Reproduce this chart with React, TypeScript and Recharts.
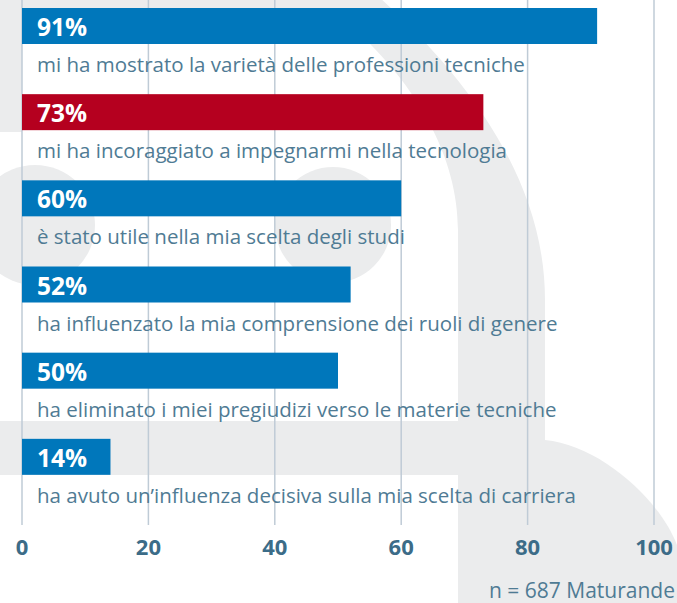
import React from "react";
import { BarChart, Bar, XAxis, YAxis, CartesianGrid } from "recharts";

const categories = [
  "mi ha mostrato la varietà delle professioni tecniche",
  "mi ha incoraggiato a impegnarmi nella tecnologia",
  "è stato utile nella mia scelta degli studi",
  "ha influenzato la mia comprensione dei ruoli di genere",
  "ha eliminato i miei pregiudizi verso le materie tecniche",
  "ha avuto un’influenza decisiva sulla mia scelta di carriera",
];
const values = [91, 73, 60, 52, 50, 14];
const barColors = ["#0077bb", "#b5001f", "#0077bb", "#0077bb", "#0077bb", "#0077bb"];
const xTicks = [0, 20, 40, 60, 80, 100];
const note = "n = 687 Maturande";

const FONT = "'Open Sans', 'Noto Sans', sans-serif";
const LABEL_COLOR = "#4f7b94";
const TICK_COLOR = "#3c6c88";
const GRID_COLOR = "#bfcbd6";
const SHAPE_GRAY = "#ebeced";

const data = categories.map((category, i) => ({
  category,
  value: values[i],
  color: barColors[i],
}));

// bar fills the top of each band, the statement sits under it
const BarWithLabel = (props: any) => {
  const { x, y, width, payload } = props;
  return (
    <g>
      <rect x={x} y={y} width={width} height={36} fill={payload.color} />
      <text x={x + 15} y={y + 28} fill="#ffffff" fontSize={24.5} fontWeight={700} fontFamily={FONT}>
        {payload.value}%
      </text>
      <text x={x + 15} y={y + 64} fill={LABEL_COLOR} fontSize={20.5} fontFamily={FONT}>
        {payload.category}
      </text>
    </g>
  );
};

// decorative logo shapes behind the chart
function Backdrop() {
  return (
    <svg width={677} height={603} style={{ position: "absolute", left: 0, top: 0 }}>
      <path
        d="M 0 -20 L 360 -20 C 440 50, 545 160, 545 300 L 545 603 L 458 603 L 458 230 C 458 160, 420 80, 330 8 L 0 8 Z"
        fill={SHAPE_GRAY}
      />
      <rect x={0} y={0} width={22} height={132} fill={SHAPE_GRAY} />
      <circle cx={35} cy={225} r={60} fill={SHAPE_GRAY} />
      <circle cx={333} cy={225} r={58} fill={SHAPE_GRAY} />
      <rect x={0} y={421} width={460} height={54} fill={SHAPE_GRAY} />
      <path d="M 545 440 C 600 445, 660 500, 677 545 L 677 603 L 545 603 Z" fill={SHAPE_GRAY} />
    </svg>
  );
}

export default function App() {
  return (
    <div style={{ position: "absolute", left: 0, top: 0, width: 677, height: 603, background: "#fff", overflow: "hidden" }}>
      <Backdrop />
      <div style={{ position: "absolute", left: 0, top: 0 }}>
        <BarChart
          layout="vertical"
          width={677}
          height={603}
          data={data}
          margin={{ top: 0, right: 23, left: 22, bottom: 38 }}
          barCategoryGap={0}
        >
          <CartesianGrid horizontal={false} stroke={GRID_COLOR} strokeWidth={1.5} />
          <XAxis
            type="number"
            domain={[0, 100]}
            ticks={xTicks}
            height={40}
            axisLine={false}
            tickLine={false}
            tickMargin={8}
            tick={{ fill: TICK_COLOR, fontSize: 22, fontWeight: 700, fontFamily: FONT }}
          />
          <YAxis type="category" dataKey="category" hide padding={{ top: 8, bottom: 0 }} />
          <Bar dataKey="value" shape={BarWithLabel} isAnimationActive={false} />
        </BarChart>
      </div>
      <div
        style={{
          position: "absolute",
          right: 2,
          top: 577,
          fontFamily: FONT,
          fontSize: 21,
          color: LABEL_COLOR,
          lineHeight: "26px",
        }}
      >
        {note}
      </div>
    </div>
  );
}
